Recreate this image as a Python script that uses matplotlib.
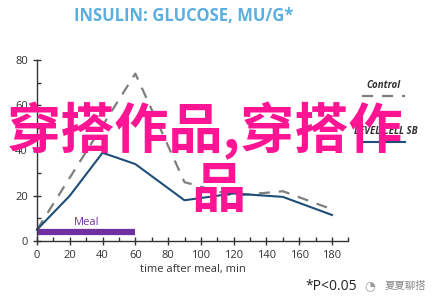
import matplotlib.pyplot as plt
from matplotlib.lines import Line2D

# Data
minutes = [0, 20, 40, 60, 90, 120, 150, 180]
control = [5, 28, 51, 74, 26, 20, 22, 14]
treated = [5, 20, 39, 34, 18, 21, 19.5, 11.5]
meal_span = [0, 60]
meal_level = 3.9
x_ticks = list(range(0, 181, 20))
y_ticks = [0, 20, 40, 60, 80]

navy = '#1f4e79'
grey = '#7f7f7f'
purple = '#7030a0'

fig = plt.figure(figsize=(4.39, 3.05), dpi=100)
ax = fig.add_axes([37 / 439, 64 / 305, 311.4 / 439, 181 / 305])

ax.plot(minutes, control, color=grey, lw=1.6, dashes=(5, 4), clip_on=False)
ax.plot(minutes, treated, color=navy, lw=1.5, clip_on=False)
ax.hlines(meal_level, meal_span[0], meal_span[1], color=purple, lw=4.5)
ax.text(30, 8, 'Meal', color=purple, fontsize=8, ha='center', va='center',
        family='Open Sans')

ax.set_xlim(0, 190)
ax.set_ylim(0, 80)
ax.set_xticks(x_ticks)
ax.set_xticks(range(10, 191, 10), minor=True)
ax.set_yticks(y_ticks)
ax.set_yticks(range(10, 80, 20), minor=True)
for s in ['top', 'right']:
    ax.spines[s].set_visible(False)
for s in ['left', 'bottom']:
    ax.spines[s].set_color('#333333')
    ax.spines[s].set_linewidth(1.0)
ax.tick_params(which='major', direction='inout', length=6, width=1, color='#333333',
               labelsize=8, labelcolor='#333333')
ax.tick_params(which='minor', direction='in', length=3, width=1, color='#333333')
for lab in ax.get_xticklabels() + ax.get_yticklabels():
    lab.set_family('Open Sans')
ax.set_xlabel('time after meal, min', fontsize=8, color='#333333', family='Open Sans',
              labelpad=2)

# title
fig.text(184 / 439, 1 - 16 / 305, 'INSULIN: GLUCOSE, MU/G*', color='#5aafe0',
         fontsize=12, fontweight='bold', family='Open Sans', ha='center', va='center')

# legend
fig.text(383 / 439, 1 - 85 / 305, 'Control', fontsize=7, style='italic', fontweight='bold',
         color='#333333', family='Open Sans', ha='center', va='center')
fig.add_artist(Line2D([362 / 439, 405 / 439], [1 - 96 / 305] * 2, color=grey, lw=1.6,
                      dashes=(5, 4)))
fig.text(386 / 439, 1 - 131 / 305, 'LEVEL CELL SB', fontsize=7, style='italic',
         fontweight='bold', color='#333333', family='Open Sans', ha='center', va='center')
fig.add_artist(Line2D([362 / 439, 405 / 439], [1 - 142 / 305] * 2, color=navy, lw=1.5))

# overlay text
pink = '#ff1493'
fig.text(205 / 439, 1 - 131 / 305, '穿搭作品,穿搭作', color=pink, fontsize=39,
         fontweight='bold', family=['Noto Sans CJK SC', 'DejaVu Sans'],
         ha='center', va='center')
fig.text(218 / 439, 1 - 191 / 305, '品', color=pink, fontsize=39, fontweight='bold',
         family=['Noto Sans CJK SC', 'DejaVu Sans'], ha='center', va='center')

# footer
fig.text(357 / 439, 1 - 286 / 305, '*P<0.05', fontsize=10, color='#222222',
         family='Open Sans', ha='right', va='center')
fig.text(370 / 439, 1 - 286 / 305, '◔', fontsize=9, color='#999999',
         family='DejaVu Sans', ha='center', va='center')
fig.text(405 / 439, 1 - 286 / 305, '夏夏聊搭', fontsize=7.5, color='#888888',
         family=['Noto Sans CJK SC', 'DejaVu Sans'], ha='center', va='center')

fig.savefig('out.png', dpi=100)
